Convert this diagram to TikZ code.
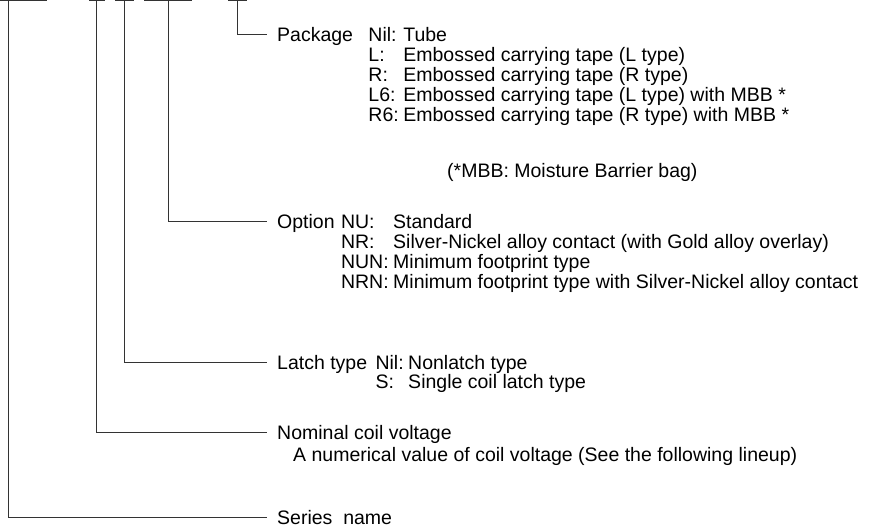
\documentclass[tikz,border=0pt]{standalone}
\usepackage{fontspec}
\setmainfont{Liberation Sans}
\usetikzlibrary{positioning}

\begin{document}
\begin{tikzpicture}[x=1pt, y=-1pt,
  every node/.style={font=\fontsize{19.5}{19.2}\selectfont},
  lead/.style={line width=1pt, black!80},
  head/.style={anchor=west, inner sep=0pt, text height=14pt, text depth=0pt},
  codes/.style={anchor=base west, inner sep=0pt}]
\useasboundingbox (0,0) rectangle (883,529);
% Part number fields
\draw[lead] (0,0.5) -- (47,0.5);
\draw[lead] (89,0.5) -- (105,0.5);
\draw[lead] (115,0.5) -- (134,0.5);
\draw[lead] (144,0.5) -- (192,0.5);
\draw[lead] (228,0.5) -- (247,0.5);
\coordinate (serP) at (8.5,0); \coordinate (volP) at (96.5,0); \coordinate (latP) at (124.3,0);
\coordinate (optP) at (168,0); \coordinate (pkgP) at (237.7,0);
% Package
\node[head] (pkgT) at (277,35) {Package};
\node[codes, right=15pt of pkgT.base east, anchor=base west] (pkgL) {\begin{tabular}[t]{@{}l@{\hspace{4.5pt}}l@{}}
Nil: & Tube\\
L: & Embossed carrying tape (L type)\\
R: & Embossed carrying tape (R type)\\
L6: & Embossed carrying tape (L type) with MBB *\\
R6: & Embossed carrying tape (R type) with MBB *
\end{tabular}};
\node[codes] (mbb) at (447,178) {(*MBB: Moisture Barrier bag)};
% Option
\node[head] (optT) at (277,222) {Option};
\node[codes, right=6pt of optT.base east, anchor=base west] (optL) {\begin{tabular}[t]{@{}l@{\hspace{4.5pt}}l@{}}
NU: & Standard\\
NR: & Silver-Nickel alloy contact (with Gold alloy overlay)\\
NUN: & Minimum footprint type\\
NRN: & Minimum footprint type with Silver-Nickel alloy contact
\end{tabular}};
% Latch type
\node[head] (latT) at (277,362) {Latch type};
\node[codes, right=8pt of latT.base east, anchor=base west] (latL) {\begin{tabular}[t]{@{}l@{\hspace{4.5pt}}l@{}}
Nil: & Nonlatch type\\
S: & Single coil latch type
\end{tabular}};
% Nominal coil voltage
\node[head] (volT) at (277,432) {Nominal coil voltage};
\node[codes] (volD) at (293,461) {A numerical value of coil voltage (See the following lineup)};
% Series name
\node[head] (serT) at (277,517) {Series\ \ name};
% Leaders
\draw[lead, shorten >=10pt] (pkgP) |- (pkgT.west);
\draw[lead, shorten >=10pt] (optP) |- (optT.west);
\draw[lead, shorten >=10pt] (latP) |- (latT.west);
\draw[lead, shorten >=10pt] (volP) |- (volT.west);
\draw[lead, shorten >=10pt] (serP) |- (serT.west);
\end{tikzpicture}
\end{document}
